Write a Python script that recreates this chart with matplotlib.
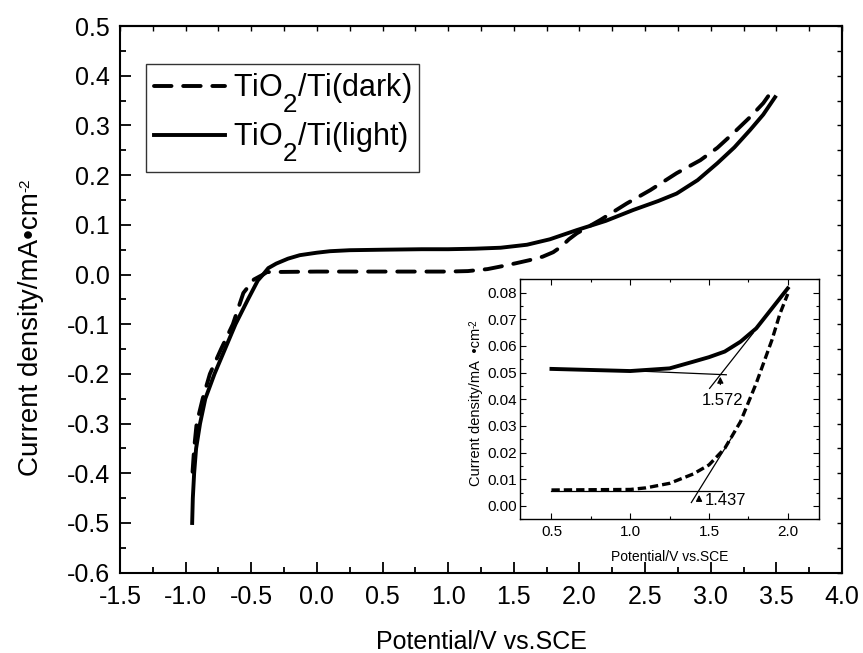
import matplotlib
matplotlib.use("Agg")
import matplotlib.pyplot as plt
from matplotlib.ticker import MultipleLocator, FormatStrFormatter, NullFormatter

# larger, deeper subscripts in mathtext (the reference uses a nearly full-size lowered "2")
try:
    import matplotlib._mathtext as _mt
    _mt.SHRINK_FACTOR = 0.85
    _mt.FontConstantsBase.sub1 = 0.95
except Exception:
    pass

plt.rcParams['font.family'] = ['Liberation Sans', 'DejaVu Sans']
plt.rcParams['mathtext.fontset'] = 'custom'
plt.rcParams['mathtext.rm'] = 'Liberation Sans'
plt.rcParams['mathtext.it'] = 'Liberation Sans'
plt.rcParams['mathtext.default'] = 'regular'

# ---- main plot data ----
light_x = [-0.95, -0.945, -0.935, -0.92, -0.89, -0.85, -0.78, -0.70, -0.62, -0.525, -0.45, -0.41, -0.37,
           -0.31, -0.22, -0.13, 0.0, 0.1, 0.25, 0.5, 0.8, 1.0, 1.2, 1.4, 1.6, 1.775, 1.98, 2.2, 2.41,
           2.6, 2.74, 2.9, 3.05, 3.18, 3.30, 3.40, 3.49]
light_y = [-0.50, -0.45, -0.40, -0.35, -0.30, -0.25, -0.20, -0.15, -0.10, -0.05, -0.012, 0.0, 0.013,
           0.022, 0.032, 0.039, 0.044, 0.047, 0.049, 0.050, 0.051, 0.051, 0.052, 0.054, 0.060, 0.071,
           0.0895, 0.108, 0.13, 0.148, 0.163, 0.19, 0.224, 0.256, 0.291, 0.322, 0.357]

dark_x = [-0.947, -0.935, -0.916, -0.87, -0.815, -0.73, -0.64, -0.56, -0.48, -0.41, -0.38, 0.0, 0.5,
          1.0, 1.15, 1.3, 1.39, 1.52, 1.62, 1.72, 1.80, 1.86, 1.92, 1.98, 2.16, 2.36, 2.54, 2.74,
          2.92, 3.05, 3.17, 3.30, 3.40, 3.47]
dark_y = [-0.397, -0.35, -0.30, -0.25, -0.20, -0.15, -0.10, -0.037, -0.01, 0.0, 0.005, 0.006, 0.006,
          0.006, 0.007, 0.011, 0.0157, 0.023, 0.029, 0.036, 0.045, 0.056, 0.071, 0.083, 0.11, 0.143,
          0.17, 0.204, 0.23, 0.255, 0.284, 0.317, 0.345, 0.371]

series_names = ['TiO$_{2}$/Ti(dark)', 'TiO$_{2}$/Ti(light)']

# ---- inset data ----
in_light_x = [0.5, 0.75, 1.0, 1.25, 1.4, 1.5, 1.6, 1.7, 1.8, 1.9, 2.0]
in_light_y = [0.0514, 0.0510, 0.0506, 0.0516, 0.0541, 0.0558, 0.0579, 0.0616, 0.0666, 0.0741, 0.0816]
in_dark_x = [0.5, 0.75, 1.0, 1.1, 1.25, 1.4, 1.5, 1.6, 1.7, 1.8, 1.9, 1.95, 2.0]
in_dark_y = [0.0060, 0.0061, 0.0062, 0.0068, 0.0085, 0.0120, 0.0154, 0.0216, 0.0316, 0.0460, 0.0623,
             0.0720, 0.0795]

# tangent construction lines in inset
base_light_x = [1.05, 1.61]
base_light_y = [0.0506, 0.0492]
tan_light_x = [1.504, 1.78]
tan_light_y = [0.0441, 0.0648]
base_dark_x = [0.5, 1.58]
base_dark_y = [0.0058, 0.0058]
tan_dark_x = [1.388, 1.653]
tan_dark_y = [0.0013, 0.0265]
onset_light = 1.572
onset_dark = 1.437

fig = plt.figure(figsize=(8.63, 6.53), dpi=100)
ax = fig.add_axes([0.139, 0.123, 0.8367, 0.837])

ax.plot(dark_x, dark_y, color='black', lw=2.8, dashes=(4.5, 3), dash_capstyle='round',
        label=series_names[0])
ax.plot(light_x, light_y, color='black', lw=2.8, label=series_names[1])

ax.set_xlim(-1.5, 4.0)
ax.set_ylim(-0.6, 0.5)
ax.xaxis.set_major_locator(MultipleLocator(0.5))
ax.xaxis.set_minor_locator(MultipleLocator(0.25))
ax.yaxis.set_major_locator(MultipleLocator(0.1))
ax.yaxis.set_minor_locator(MultipleLocator(0.05))
ax.xaxis.set_major_formatter(FormatStrFormatter('%.1f'))
ax.yaxis.set_major_formatter(FormatStrFormatter('%.1f'))
ax.tick_params(which='both', direction='in', width=1.3, labelsize=18)
ax.tick_params(which='major', length=8)
ax.tick_params(which='minor', length=4.5)
ax.tick_params(axis='x', pad=9)
ax.tick_params(axis='y', pad=7)
for s in ax.spines.values():
    s.set_linewidth(1.5)

# mirrored short ticks on top and right (no labels)
sx = ax.secondary_xaxis('top')
sx.xaxis.set_major_locator(MultipleLocator(0.25))
sx.xaxis.set_major_formatter(NullFormatter())
sx.tick_params(direction='in', length=3.5, width=1.0, labeltop=False)
sx.spines['top'].set_linewidth(1.5)
sy = ax.secondary_yaxis('right')
sy.yaxis.set_major_locator(MultipleLocator(0.05))
sy.yaxis.set_major_formatter(NullFormatter())
sy.tick_params(direction='in', length=3.5, width=1.0, labelright=False)
sy.spines['right'].set_linewidth(1.5)

ax.set_xlabel('Potential/V vs.SCE', fontsize=18)
ax.xaxis.set_label_coords(0.5, -0.104)
ax.set_ylabel('Current density/mA\u2022cm', fontsize=20)
ax.yaxis.set_label_coords(-0.105, 0.436)
ax.annotate('-2', xy=(0, 1), xycoords=ax.yaxis.label, ha='left', va='bottom', rotation=90,
            fontsize=11, zorder=6, annotation_clip=False)

leg = ax.legend(loc='upper left', bbox_to_anchor=(146 / 863, 1 - 64 / 653),
                bbox_transform=fig.transFigure, fontsize=22, frameon=True, fancybox=False,
                edgecolor='black', handlelength=2.35, handletextpad=0.25, labelspacing=0.2,
                borderpad=0.25, borderaxespad=0.0)
leg.get_frame().set_linewidth(1.0)

# ---- inset ----
ins = fig.add_axes([0.6025, 0.2047, 0.3468, 0.3676])
ins.plot(in_dark_x, in_dark_y, color='black', lw=2.4, dashes=(2.5, 1.2))
ins.plot(in_light_x, in_light_y, color='black', lw=2.8)
ins.plot(base_light_x, base_light_y, color='black', lw=0.9)
ins.plot(tan_light_x, tan_light_y, color='black', lw=0.9)
ins.plot(base_dark_x, base_dark_y, color='black', lw=0.9)
ins.plot(tan_dark_x, tan_dark_y, color='black', lw=0.9)
ins.annotate('', xy=(onset_light, 0.0495), xytext=(onset_light, 0.0445),
             arrowprops=dict(arrowstyle='-|>', color='black', lw=0.9, mutation_scale=9))
ins.annotate('', xy=(onset_dark, 0.0052), xytext=(onset_dark, 0.0010),
             arrowprops=dict(arrowstyle='-|>', color='black', lw=0.9, mutation_scale=9))
ins.text(onset_light + 0.012, 0.0394, f'{onset_light:.3f}', fontsize=12, ha='center', va='center')
ins.text(onset_dark + 0.038, 0.0020, f'{onset_dark:.3f}', fontsize=12, ha='left', va='center')

ins.set_xlim(0.3, 2.2)
ins.set_ylim(-0.005, 0.085)
ins.xaxis.set_major_locator(MultipleLocator(0.5))
ins.xaxis.set_minor_locator(MultipleLocator(0.25))
ins.yaxis.set_major_locator(MultipleLocator(0.01))
ins.yaxis.set_minor_locator(MultipleLocator(0.005))
ins.xaxis.set_major_formatter(FormatStrFormatter('%.1f'))
ins.yaxis.set_major_formatter(FormatStrFormatter('%.2f'))
ins.tick_params(which='both', direction='in', top=True, right=True, width=0.8, labelsize=11,
                labeltop=False, labelright=False)
ins.tick_params(which='major', length=4)
ins.tick_params(which='minor', length=2.5)
ins.tick_params(axis='x', pad=4)
ins.tick_params(axis='y', pad=2)
for s in ins.spines.values():
    s.set_linewidth(1.0)
ins.set_xlabel('Potential/V vs.SCE', fontsize=10)
ins.xaxis.set_label_coords(0.5, -0.128)
ins.set_ylabel('Current density/mA  \u2022cm', fontsize=10.5)
ins.yaxis.set_label_coords(-0.124, 0.468)
ins.annotate('-2', xy=(0, 1), xycoords=ins.yaxis.label, ha='left', va='bottom', rotation=90,
             fontsize=7, zorder=6, annotation_clip=False)

fig.savefig('out.png', dpi=100)
